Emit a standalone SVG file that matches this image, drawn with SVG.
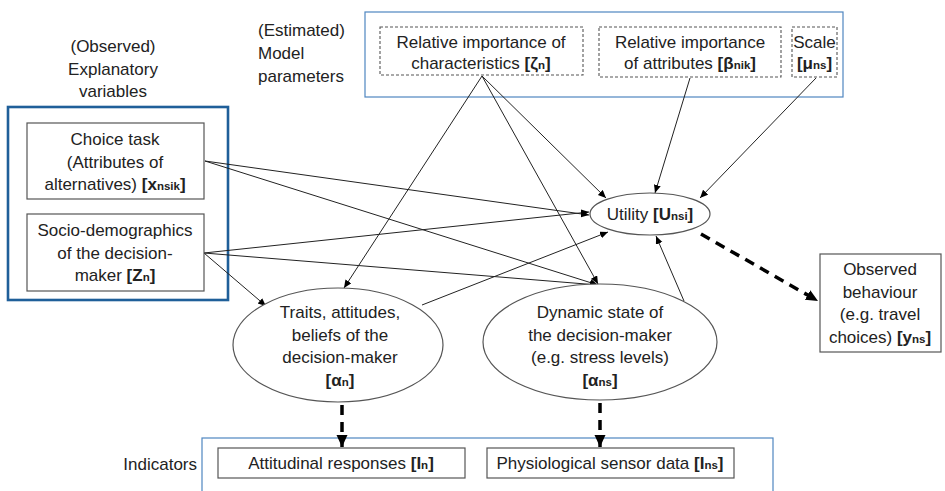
<svg xmlns="http://www.w3.org/2000/svg" width="945" height="491" viewBox="0 0 945 491">
<style>
text{font-family:"Liberation Sans",Arial,sans-serif;font-size:17px;fill:#222;}
.c{text-anchor:middle;}
.b{font-weight:bold;}
.s{font-size:11.5px;font-weight:bold;}
.box{fill:#fff;stroke:#555;stroke-width:1.2;}
.dbox{fill:#fff;stroke:#555;stroke-width:1.1;stroke-dasharray:3,2;}
.ell{fill:#fff;stroke:#555;stroke-width:1.2;}
.grp{fill:none;stroke:#4f86c0;stroke-width:1.2;}
.grpk{fill:none;stroke:#1f5f99;stroke-width:2.6;}
.ln{stroke:#222;stroke-width:1;fill:none;marker-end:url(#a);}
.dl{stroke:#000;stroke-width:3.5;fill:none;stroke-dasharray:10,7;marker-end:url(#A);}
</style>
<defs>
<marker id="a" markerUnits="userSpaceOnUse" markerWidth="10" markerHeight="8" refX="8" refY="3.5" orient="auto"><path d="M0,0 L8,3.5 L0,7 Z" fill="#000"/></marker>
<marker id="A" markerUnits="userSpaceOnUse" markerWidth="14" markerHeight="12" refX="12" refY="5.5" orient="auto"><path d="M0,0 L12,5.5 L0,11 Z" fill="#000"/></marker>
</defs>
<rect width="945" height="491" fill="#fff"/>

<g id="group-parameters">
<rect class="grp" x="365" y="12" width="478" height="85"/>
<text x="258" y="36">(Estimated)</text>
<text x="258" y="59">Model</text>
<text x="258" y="82">parameters</text>
</g>
<g id="group-explanatory">
<rect class="grpk" x="8" y="107" width="220" height="193"/>
<text class="c" x="113" y="52">(Observed)</text>
<text class="c" x="113" y="75">Explanatory</text>
<text class="c" x="113" y="97">variables</text>
</g>
<g id="group-indicators">
<rect class="grp" x="202" y="438" width="571" height="70"/>
<text x="197" y="470" text-anchor="end">Indicators</text>
</g>

<g id="connectors">
<line class="ln" x1="205" y1="161" x2="589" y2="215"/>
<line class="ln" x1="205" y1="161" x2="598" y2="285"/>
<line class="ln" x1="204" y1="253" x2="589" y2="212"/>
<line class="ln" x1="204" y1="253" x2="598" y2="285"/>
<line class="ln" x1="204" y1="253" x2="266" y2="306"/>
<line class="ln" x1="482" y1="76" x2="344" y2="288"/>
<line class="ln" x1="482" y1="76" x2="598" y2="284"/>
<line class="ln" x1="482" y1="76" x2="606" y2="198"/>
<line class="ln" x1="690" y1="78" x2="655" y2="193"/>
<line class="ln" x1="816" y1="78" x2="700" y2="198"/>
<line class="ln" x1="422" y1="305" x2="608" y2="232"/>
<line class="ln" x1="684" y1="301" x2="656" y2="236"/>
<line class="dl" x1="701" y1="234" x2="818" y2="301"/>
<line class="dl" x1="342" y1="405" x2="342" y2="447"/>
<line class="dl" x1="600" y1="403" x2="600" y2="447"/>
</g>

<g id="node-characteristics">
<rect class="dbox" x="380" y="27" width="203" height="48"/>
<text class="c" x="481" y="48">Relative importance of</text>
<text class="c" x="481" y="69">characteristics <tspan class="b">[ζ<tspan class="s">n</tspan>]</tspan></text>
</g>
<g id="node-attributes">
<rect class="dbox" x="599" y="27" width="182" height="50"/>
<text class="c" x="690" y="48">Relative importance</text>
<text class="c" x="690" y="69">of attributes <tspan class="b">[β<tspan class="s">nik</tspan>]</tspan></text>
</g>
<g id="node-scale">
<rect class="dbox" x="792" y="27" width="45" height="50"/>
<text class="c" x="814.5" y="48">Scale</text>
<text class="c" x="814.5" y="69"><tspan class="b">[μ<tspan class="s">ns</tspan>]</tspan></text>
</g>
<g id="node-choice">
<rect class="box" x="27" y="123" width="177" height="76"/>
<text class="c" x="115" y="145">Choice task</text>
<text class="c" x="115" y="168">(Attributes of</text>
<text class="c" x="115" y="190">alternatives) <tspan class="b">[x<tspan class="s">nsik</tspan>]</tspan></text>
</g>
<g id="node-socio">
<rect class="box" x="27" y="214" width="177" height="77"/>
<text class="c" x="115" y="236">Socio-demographics</text>
<text class="c" x="115" y="259">of the decision-</text>
<text class="c" x="115" y="281">maker <tspan class="b">[Z<tspan class="s">n</tspan>]</tspan></text>
</g>
<g id="node-utility">
<ellipse class="ell" cx="650" cy="214" rx="60" ry="21"/>
<text class="c" x="650" y="220">Utility <tspan class="b">[U<tspan class="s">nsi</tspan>]</tspan></text>
</g>
<g id="node-traits">
<ellipse class="ell" cx="338" cy="345" rx="105" ry="57"/>
<text class="c" x="340" y="318">Traits, attitudes,</text>
<text class="c" x="340" y="341">beliefs of the</text>
<text class="c" x="340" y="363">decision-maker</text>
<text class="c" x="340" y="386"><tspan class="b">[α<tspan class="s">n</tspan>]</tspan></text>
</g>
<g id="node-dynamic">
<ellipse class="ell" cx="600" cy="342" rx="117" ry="58"/>
<text class="c" x="600" y="318">Dynamic state of</text>
<text class="c" x="600" y="341">the decision-maker</text>
<text class="c" x="600" y="363">(e.g. stress levels)</text>
<text class="c" x="600" y="386"><tspan class="b">[α<tspan class="s">ns</tspan>]</tspan></text>
</g>
<g id="node-observed">
<rect class="box" x="820" y="254" width="121" height="98"/>
<text class="c" x="880" y="275">Observed</text>
<text class="c" x="880" y="298">behaviour</text>
<text class="c" x="880" y="320">(e.g. travel</text>
<text class="c" x="880" y="343">choices) <tspan class="b">[y<tspan class="s">ns</tspan>]</tspan></text>
</g>
<g id="node-attitudinal">
<rect class="box" x="218" y="448" width="247" height="30"/>
<text class="c" x="341" y="469">Attitudinal responses <tspan class="b">[I<tspan class="s">n</tspan>]</tspan></text>
</g>
<g id="node-physiological">
<rect class="box" x="487" y="448" width="247" height="30"/>
<text class="c" x="610" y="469">Physiological sensor data <tspan class="b">[I<tspan class="s">ns</tspan>]</tspan></text>
</g>
</svg>
